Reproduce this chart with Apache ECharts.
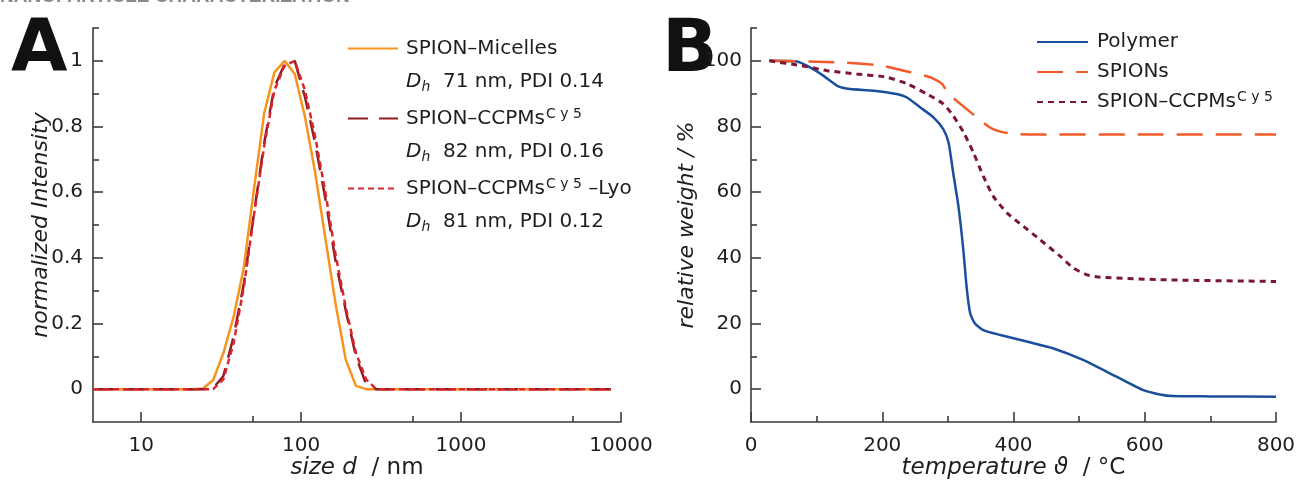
<!DOCTYPE html>
<html><head><meta charset="utf-8">
<script src="https://cdn.jsdelivr.net/npm/echarts@6/dist/echarts.min.js"></script>
<style>html,body{margin:0;padding:0;background:#fff}#c{width:1298px;height:481px}</style>
</head><body><div id="c"></div>
<script>
// ---------- Panel A: DLS size distributions ----------
const sizesA = [5, 21.04, 24.36, 28.21, 32.67, 37.84, 43.82, 50.75, 58.77, 68.06, 78.82, 91.28, 105.7, 122.4, 141.8, 164.2, 190.1, 220.2, 255.0, 295.3, 342.0, 8635];
const micelles = [0, 0, 0.002, 0.028, 0.11, 0.22, 0.37, 0.61, 0.84, 0.965, 1.0, 0.96, 0.83, 0.66, 0.46, 0.26, 0.09, 0.01, 0, 0, 0, 0];
const ccpms    = [0, 0, 0, 0.003, 0.04, 0.16, 0.32, 0.535, 0.75, 0.92, 0.99, 1.0, 0.89, 0.75, 0.58, 0.39, 0.24, 0.10, 0.015, 0, 0, 0];
const ccpmsLyo = [0, 0, 0, 0, 0.03, 0.14, 0.31, 0.53, 0.74, 0.91, 0.985, 1.0, 0.91, 0.77, 0.60, 0.41, 0.25, 0.11, 0.03, 0, 0, 0];
const xTicksA = [10, 100, 1000, 10000];
const xMinorA = [50, 500, 5000];
const yTicksA = [0, 0.2, 0.4, 0.6, 0.8, 1];
const yMinorA = [0.1, 0.3, 0.5, 0.7, 0.9, 1.1];
const dhLines = ['71 nm, PDI 0.14', '82 nm, PDI 0.16', '81 nm, PDI 0.12'];

// ---------- Panel B: TGA ----------
const tPolymer = [28, 70, 90, 110, 133, 151, 187, 222, 237, 258, 278, 293, 301, 308, 316, 323, 329, 334, 341, 354, 380, 420, 461, 506, 557, 598, 623, 643, 700, 800];
const wPolymer = [100, 99.8, 98, 95.5, 92.2, 91.4, 90.9, 89.9, 88.9, 85.8, 82.8, 79.2, 75.1, 66, 55.8, 43.5, 30.3, 23.1, 20.1, 18, 16.5, 14.5, 12.4, 8.9, 3.8, -0.3, -1.6, -2.1, -2.2, -2.3];
const tSpions = [28, 126, 197, 243, 273, 291, 301, 319, 344, 364, 385, 405, 440, 600, 800];
const wSpions = [100, 99.6, 98.6, 96.5, 95, 93, 89.9, 86.9, 82.8, 79.7, 78.2, 77.7, 77.6, 77.6, 77.6];
const tCcpm = [28, 75, 116, 161, 207, 238, 268, 293, 308, 324, 339, 354, 369, 390, 415, 440, 471, 491, 511, 532, 633, 800];
const wCcpm = [100, 98.6, 97, 96, 95, 93, 89.9, 86.9, 83.3, 78.2, 72, 64.9, 58.8, 53.7, 49.6, 45.6, 40.5, 36.9, 34.9, 34.1, 33.3, 32.8];
const yTicksB = [0, 20, 40, 60, 80, 100];
const yMinorB = [10, 30, 50, 70, 90, 110];

const FONT = 'DejaVu Sans';
const AX = '#3c3c3c';
const TXT = '#1e1e1e';
const pairs = (xs, ys) => xs.map((x, i) => [x, ys[i]]);

const lineAx = { show: true, onZero: false, lineStyle: { color: AX, width: 1.6 } };
const labelBase = { color: TXT, fontFamily: FONT, fontSize: 20 };
const mainTick = (vals) => ({ show: true, inside: true, length: 10, customValues: vals, lineStyle: { color: AX, width: 1.6 } });
const minorAxisTick = (vals) => ({ show: true, inside: true, length: 6, customValues: vals, lineStyle: { color: AX, width: 1.6 } });

const legendNames = {
  mic: 'SPION–Micelles',
  ccA: 'SPION–CCPMs{sup|C y 5}',
  lyo: 'SPION–CCPMs{sup|C y 5} –Lyo',
  pol: 'Polymer',
  spi: 'SPIONs',
  ccB: 'SPION–CCPMs{sup|C y 5}'
};
const supStyle = { fontSize: 14, fontFamily: FONT, color: TXT, lineHeight: 14, padding: [0, 0, 9, 1] };

const chart = echarts.init(document.getElementById('c'), null, { renderer: 'canvas' });
const option = {
  animation: false,
  backgroundColor: '#ffffff',
  grid: [
    { left: 93, right: 677, top: 28, bottom: 59, outerBoundsMode: 'none', containLabel: false },
    { left: 751, right: 22, top: 28, bottom: 59, outerBoundsMode: 'none', containLabel: false }
  ],
  xAxis: [
    {
      gridIndex: 0, type: 'log', logBase: 10, min: 5, max: 10000, position: 'bottom',
      axisLine: lineAx, splitLine: { show: false },
      axisTick: mainTick(xTicksA),
      axisLabel: Object.assign({}, labelBase, { customValues: xTicksA, margin: 14, formatter: v => String(Math.round(v)) }),
      name: '{i|size d}{n|  / nm}', nameLocation: 'middle', nameGap: 35, nameMoveOverlap: false,
      nameTextStyle: { rich: {
        i: { fontFamily: FONT, fontSize: 23, fontStyle: 'italic', color: TXT },
        n: { fontFamily: FONT, fontSize: 23, color: TXT } } }
    },
    {
      gridIndex: 0, type: 'log', logBase: 10, min: 5, max: 10000, position: 'bottom',
      axisLine: { show: false, onZero: false }, splitLine: { show: false },
      axisTick: minorAxisTick(xMinorA), axisLabel: { show: false }
    },
    {
      gridIndex: 1, type: 'value', min: 0, max: 800, interval: 200, position: 'bottom',
      axisLine: lineAx, splitLine: { show: false },
      axisTick: { show: true, inside: true, length: 10, lineStyle: { color: AX, width: 1.6 } },
      minorTick: { show: true, splitNumber: 2, length: 6, lineStyle: { color: AX, width: 1.6 } },
      axisLabel: Object.assign({}, labelBase, { margin: 14 }),
      name: '{i|temperature ϑ}{n|  / °C}', nameLocation: 'middle', nameGap: 35, nameMoveOverlap: false,
      nameTextStyle: { rich: {
        i: { fontFamily: FONT, fontSize: 23, fontStyle: 'italic', color: TXT },
        n: { fontFamily: FONT, fontSize: 23, color: TXT } } }
    }
  ],
  yAxis: [
    {
      gridIndex: 0, type: 'value', min: -0.1, max: 1.1, position: 'left',
      axisLine: lineAx, splitLine: { show: false },
      axisTick: mainTick(yTicksA),
      axisLabel: Object.assign({}, labelBase, { customValues: yTicksA, margin: 10,
        formatter: v => String(Math.round(v * 10) / 10) }),
      name: 'normalized Intensity', nameLocation: 'middle', nameGap: 41, nameMoveOverlap: false,
      nameTextStyle: { fontFamily: FONT, fontSize: 22, fontStyle: 'italic', color: TXT }
    },
    {
      gridIndex: 0, type: 'value', min: -0.1, max: 1.1, position: 'left',
      axisLine: { show: false, onZero: false }, splitLine: { show: false },
      axisTick: minorAxisTick(yMinorA), axisLabel: { show: false }
    },
    {
      gridIndex: 1, type: 'value', min: -10, max: 110, position: 'left',
      axisLine: lineAx, splitLine: { show: false },
      axisTick: mainTick(yTicksB),
      axisLabel: Object.assign({}, labelBase, { customValues: yTicksB, margin: 9 }),
      name: 'relative weight / %', nameLocation: 'middle', nameGap: 53, nameMoveOverlap: false,
      nameTextStyle: { fontFamily: FONT, fontSize: 22, fontStyle: 'italic', color: TXT }
    },
    {
      gridIndex: 1, type: 'value', min: -10, max: 110, position: 'left',
      axisLine: { show: false, onZero: false }, splitLine: { show: false },
      axisTick: minorAxisTick(yMinorB), axisLabel: { show: false }
    }
  ],
  legend: [
    {
      data: ['mic', 'ccA', 'lyo'], left: 342, top: 26, orient: 'vertical',
      itemWidth: 50, itemHeight: 14, itemGap: 35, selectedMode: false,
      itemStyle: { opacity: 0, borderWidth: 0 },
      formatter: n => legendNames[n],
      textStyle: { fontFamily: FONT, fontSize: 20, color: TXT, lineHeight: 35, padding: [0, 0, 0, 3],
        rich: { sup: supStyle } }
    },
    {
      data: ['pol', 'spi', 'ccB'], left: 1031, top: 22, orient: 'vertical',
      itemWidth: 51, itemHeight: 14, itemGap: 0, selectedMode: false,
      itemStyle: { opacity: 0, borderWidth: 0 },
      formatter: n => legendNames[n],
      textStyle: { fontFamily: FONT, fontSize: 20, color: TXT, lineHeight: 30, padding: [0, 0, 0, 4],
        rich: { sup: supStyle } }
    }
  ],
  series: [
    { name: 'mic', type: 'line', xAxisIndex: 0, yAxisIndex: 0, data: pairs(sizesA, micelles), showSymbol: false, symbol: 'none',
      lineStyle: { color: '#F7941E', width: 2.5 }, itemStyle: { color: '#F7941E' } },
    { name: 'ccA', type: 'line', xAxisIndex: 0, yAxisIndex: 0, data: pairs(sizesA, ccpms), showSymbol: false, symbol: 'none',
      lineStyle: { color: '#8E1B22', width: 2.5, type: [20, 11] }, itemStyle: { color: '#8E1B22' } },
    { name: 'lyo', type: 'line', xAxisIndex: 0, yAxisIndex: 0, data: pairs(sizesA, ccpmsLyo), showSymbol: false, symbol: 'none',
      lineStyle: { color: '#D9262E', width: 2.5, type: [6, 4] }, itemStyle: { color: '#D9262E' } },
    { name: 'pol', type: 'line', xAxisIndex: 2, yAxisIndex: 2, data: pairs(tPolymer, wPolymer), showSymbol: false, symbol: 'none',
      smooth: 0.2,
      lineStyle: { color: '#1B4F9C', width: 2.5 }, itemStyle: { color: '#1B4F9C' } },
    { name: 'spi', type: 'line', xAxisIndex: 2, yAxisIndex: 2, data: pairs(tSpions, wSpions), showSymbol: false, symbol: 'none',
      smooth: 0.2,
      lineStyle: { color: '#F15A29', width: 2.5, type: [26, 13] }, itemStyle: { color: '#F15A29' } },
    { name: 'ccB', type: 'line', xAxisIndex: 2, yAxisIndex: 2, data: pairs(tCcpm, wCcpm), showSymbol: false, symbol: 'none',
      smooth: 0.2,
      lineStyle: { color: '#7A1735', width: 3, type: [6, 5] }, itemStyle: { color: '#7A1735' } }
  ],
  graphic: [
    { type: 'text', left: 0, top: -13, style: { text: 'NANOPARTICLE CHARACTERIZATION', fontFamily: 'Liberation Sans', fontWeight: 'bold', fontSize: 19, fill: '#8a8a8a' } },
    { type: 'text', x: 11, y: 52, style: { text: 'A', fontFamily: FONT, fontWeight: 'bold', fontSize: 73, fill: '#111', verticalAlign: 'middle' } },
    { type: 'text', x: 662, y: 52, style: { text: 'B', fontFamily: FONT, fontWeight: 'bold', fontSize: 73, fill: '#111', verticalAlign: 'middle' } }
  ].concat(dhLines.map((s, i) => ({
    type: 'text', x: 406, y: 82 + i * 70,
    style: {
      text: '{d|D}{h|h}{n|  ' + s + '}', verticalAlign: 'middle',
      rich: {
        d: { fontFamily: FONT, fontSize: 20, fontStyle: 'italic', fill: TXT, lineHeight: 24 },
        h: { fontFamily: FONT, fontSize: 14, fontStyle: 'italic', fill: TXT, lineHeight: 4, verticalAlign: 'bottom' },
        n: { fontFamily: FONT, fontSize: 20, fill: TXT, lineHeight: 24 }
      }
    }
  })))
};
chart.setOption(option);
</script>
</body></html>
